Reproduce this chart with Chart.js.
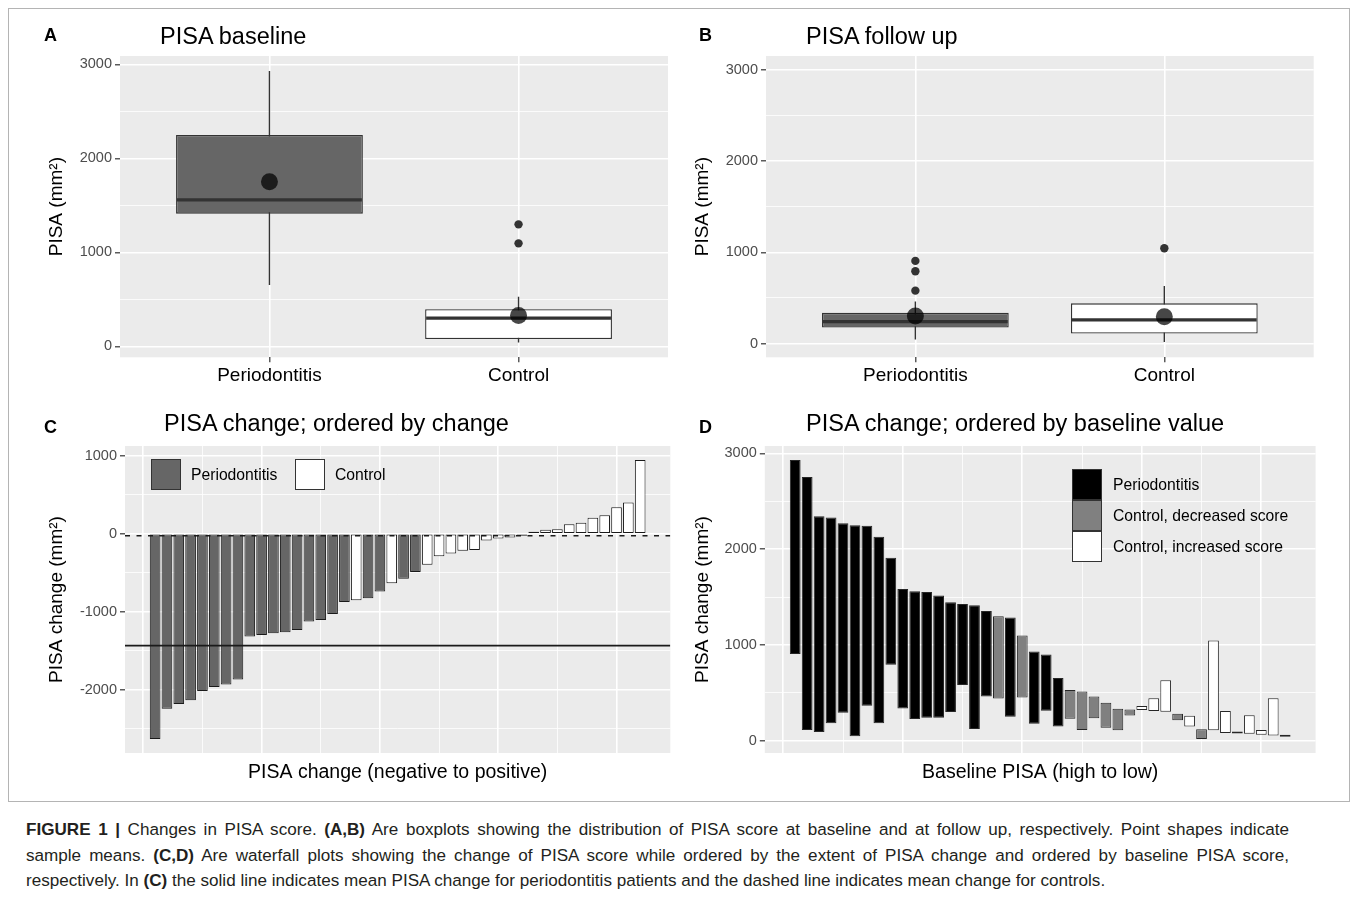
<!DOCTYPE html>
<html>
<head>
<meta charset="utf-8">
<script src="https://cdn.jsdelivr.net/npm/chart.js@4.4.0/dist/chart.umd.min.js"></script>
<style>
  body { margin: 0; background: #fff; font-family: "Liberation Sans", Arial, sans-serif; }
  #fig { position: relative; width: 1357px; height: 897px; overflow: hidden; }
  #frame { position: absolute; left: 8px; top: 8px; width: 1342px; height: 794px; border: 1px solid #b4b4b4; box-sizing: border-box; }
  canvas { position: absolute; }
  .txt { position: absolute; line-height: 1; white-space: nowrap; color: #000; }
  .letter { font-weight: bold; font-size: 18px; }
  .title { font-size: 23.5px; }
  .leg { font-size: 15.7px; }
  .key { position: absolute; width: 30px; height: 31px; border: 1px solid #333; box-sizing: border-box; }
  #caption { position: absolute; left: 26px; top: 817px; width: 1263px; font-size: 17.1px; line-height: 25.5px; color: #231f20; }
  #caption .j { text-align: justify; text-align-last: justify; white-space: normal; }
  #caption div { white-space: nowrap; }
</style>
</head>
<body>
<div id="fig">
  <div id="frame"></div>

  <canvas id="chartA" width="650" height="370" style="left:30px;top:40px"></canvas>
  <canvas id="chartB" width="660" height="370" style="left:680px;top:40px"></canvas>
  <canvas id="chartC" width="650" height="360" style="left:30px;top:430px"></canvas>
  <canvas id="chartD" width="660" height="360" style="left:680px;top:430px"></canvas>

  <div class="txt letter" style="left:44px;top:26px">A</div>
  <div class="txt title" style="left:160px;top:24.5px">PISA baseline</div>
  <div class="txt letter" style="left:699px;top:26px">B</div>
  <div class="txt title" style="left:806px;top:24.5px">PISA follow up</div>
  <div class="txt letter" style="left:44px;top:418px">C</div>
  <div class="txt title" style="left:164px;top:411.5px">PISA change; ordered by change</div>
  <div class="txt letter" style="left:699px;top:418px">D</div>
  <div class="txt title" style="left:806px;top:411.5px">PISA change; ordered by baseline value</div>

  <!-- legend C -->
  <div class="key" style="left:151px;top:459px;background:#666666"></div>
  <div class="txt leg" style="left:191px;top:466.5px">Periodontitis</div>
  <div class="key" style="left:295px;top:459px;background:#ffffff"></div>
  <div class="txt leg" style="left:335px;top:466.5px">Control</div>

  <!-- legend D -->
  <div class="key" style="left:1072px;top:469px;background:#000000"></div>
  <div class="key" style="left:1072px;top:500px;background:#808080"></div>
  <div class="key" style="left:1072px;top:531px;background:#ffffff"></div>
  <div class="txt leg" style="left:1113px;top:477px">Periodontitis</div>
  <div class="txt leg" style="left:1113px;top:508px">Control, decreased score</div>
  <div class="txt leg" style="left:1113px;top:539px">Control, increased score</div>

  <div id="caption">
    <div class="j"><b>FIGURE 1 |</b> Changes in PISA score. <b>(A,B)</b> Are boxplots showing the distribution of PISA score at baseline and at follow up, respectively. Point shapes indicate</div>
    <div class="j">sample means. <b>(C,D)</b> Are waterfall plots showing the change of PISA score while ordered by the extent of PISA change and ordered by baseline PISA score,</div>
    <div>respectively. In <b>(C)</b> the solid line indicates mean PISA change for periodontitis patients and the dashed line indicates mean change for controls.</div>
  </div>
</div>

<script>
// ---------- data ----------
const boxCategories = ["Periodontitis", "Control"];

// subjects ordered by baseline PISA, high to low (panel D)
const baselinePisa = [2931, 2753, 2344, 2330, 2271, 2250, 2245, 2128, 1910, 1583, 1559, 1552, 1517, 1444,
  1427, 1413, 1354, 1299, 1285, 1097, 931, 899, 653, 528, 514, 462, 396, 333, 326, 319, 309, 302, 281,
  149, 118, 108, 80, 74, 72, 62, 55, 42];
const followupPisa = [906, 111, 90, 181, 292, 45, 365, 181, 792, 337, 226, 240, 240, 299,
  580, 122, 462, 441, 250, 451, 177, 312, 149, 229, 111, 233, 135, 108, 262, 361, 444, 632, 212,
  260, 17, 1045, 309, 79, 264, 111, 444, 45];
// P = periodontitis, CD = control decreased, CI = control increased
const subjectGroup = ["P", "P", "P", "P", "P", "P", "P", "P", "P", "P", "P", "P", "P", "P",
  "P", "P", "P", "CD", "P", "CD", "P", "P", "P", "CD", "CD", "CD", "CD", "CD", "CD", "CI", "CI", "CI", "CD",
  "CI", "CD", "CI", "CI", "CI", "CI", "CI", "CI", "CI"];

// panel C: change, ordered from negative to positive
const changeSorted = [-2632, -2244, -2184, -2133, -2017, -1966, -1932, -1868, -1316, -1299, -1274, -1261,
  -1233, -1126, -1105, -1028, -876, -852, -827, -740, -635, -577, -491, -397, -288, -252, -216, -209,
  -86, -60, -47, -4, 10, 51, 58, 124, 143, 205, 239, 342, 400, 947];
const changeGroup = ["P", "P", "P", "P", "P", "P", "P", "P", "P", "P", "P", "P",
  "P", "P", "P", "P", "P", "C", "P", "P", "C", "P", "P", "C", "C", "C", "C", "C",
  "C", "C", "C", "C", "C", "C", "C", "C", "C", "C", "C", "C", "C", "C"];

// axis breaks
const pisaMajor = [0, 1000, 2000, 3000];
const pisaMinor = [500, 1500, 2500];
const changeMajor = [-2000, -1000, 0, 1000];
const changeMinor = [-2500, -1500, -500, 500];
const orderMajor = [0, 10, 20, 30, 40];
const orderMinor = [5, 15, 25, 35];

// ---------- helpers ----------
Chart.defaults.font.family = '"Liberation Sans", Arial, sans-serif';
Chart.defaults.animation = false;
Chart.defaults.plugins.legend.display = false;
Chart.defaults.plugins.tooltip.enabled = false;

const ORDER_MIN = -1.545, ORDER_MAX = 44.545;

const panelBg = {
  id: "panelBg",
  beforeDraw(chart) {
    const { ctx, chartArea: a } = chart;
    ctx.save();
    ctx.fillStyle = "#EBEBEB";
    ctx.fillRect(a.left, a.top, a.right - a.left, a.bottom - a.top);
    ctx.restore();
  },
};

const gridOpts = (tickMarks) => ({
  color: "#FFFFFF",
  lineWidth: (c) => (c.tick && c.tick.major ? 1.6 : 0.8),
  drawTicks: tickMarks,
  tickLength: 5,
  tickWidth: 1.2,
  tickColor: (c) => (c.tick && c.tick.major ? "#333333" : "rgba(0,0,0,0)"),
  offset: false,
});

const setTicks = (major, minor) => (scale) => {
  scale.ticks = major.map((v) => ({ value: v, major: true }))
    .concat(minor.map((v) => ({ value: v, major: false })))
    .sort((a, b) => a.value - b.value);
};

const yScale = (min, max, major, minor, width, title, titlePad) => ({
  type: "linear",
  min, max,
  afterBuildTicks: setTicks(major, minor),
  afterFit: (s) => { s.width = width; },
  grid: gridOpts(true),
  border: { display: false },
  ticks: {
    autoSkip: false, padding: 3, color: "#4D4D4D", font: { size: 14.5 },
    callback: (v) => (major.includes(v) ? String(v) : ""),
  },
  title: { display: true, text: title, color: "#000", font: { size: 19 }, padding: { top: titlePad, bottom: 0 } },
});

const xCategoryScale = (height) => ({
  type: "linear",
  min: 0.4, max: 2.6, offset: false,
  afterBuildTicks: setTicks([1, 2], []),
  afterFit: (s) => { s.height = height; },
  grid: gridOpts(true),
  border: { display: false },
  ticks: {
    autoSkip: false, padding: 2, maxRotation: 0, color: "#000", font: { size: 19 },
    callback: (v) => boxCategories[v - 1] || "",
  },
});

const xOrderScale = (height, title) => ({
  type: "linear",
  min: ORDER_MIN, max: ORDER_MAX, offset: false,
  afterBuildTicks: setTicks(orderMajor, orderMinor),
  afterFit: (s) => { s.height = height; },
  grid: gridOpts(false),
  border: { display: false },
  ticks: { display: false },
  title: { display: true, text: title, color: "#000", font: { size: 19.5 }, padding: { top: 0, bottom: 5.5 } },
});

// ggplot style quantiles (type 7)
const quantile = (s, p) => {
  const h = (s.length - 1) * p, lo = Math.floor(h);
  return lo + 1 < s.length ? s[lo] + (h - lo) * (s[lo + 1] - s[lo]) : s[lo];
};
const boxStats = (vals) => {
  const s = [...vals].sort((a, b) => a - b);
  const q1 = quantile(s, 0.25), med = quantile(s, 0.5), q3 = quantile(s, 0.75);
  const lowF = q1 - 1.5 * (q3 - q1), highF = q3 + 1.5 * (q3 - q1);
  const inside = s.filter((v) => v >= lowF && v <= highF);
  return {
    q1, med, q3,
    lo: inside[0], hi: inside[inside.length - 1],
    out: s.filter((v) => v < lowF || v > highF),
    mean: s.reduce((a, b) => a + b, 0) / s.length,
  };
};

const boxDatasets = (values) => {
  const groups = [
    boxStats(values.filter((_, i) => subjectGroup[i] === "P")),
    boxStats(values.filter((_, i) => subjectGroup[i] !== "P")),
  ];
  const halfBox = (ctx) => {
    const s = ctx.chart.scales.x;
    return Math.abs(s.getPixelForValue(1.375) - s.getPixelForValue(1)) - 1;
  };
  return [
    {
      type: "bar", order: 5, grouped: false, maxBarThickness: 1.4,
      data: groups.map((g, i) => ({ x: i + 1, y: [g.lo, g.hi] })),
      backgroundColor: "#333333",
    },
    {
      type: "bar", order: 4, grouped: false, categoryPercentage: 1, barPercentage: 0.75,
      data: groups.map((g, i) => ({ x: i + 1, y: [g.q1, g.q3] })),
      backgroundColor: ["#666666", "#FFFFFF"],
      borderColor: "#333333", borderWidth: 1.3, borderSkipped: false,
    },
    {
      type: "scatter", order: 3,
      data: groups.map((g, i) => ({ x: i + 1, y: g.med })),
      pointStyle: "line", pointRadius: halfBox, pointHoverRadius: halfBox,
      pointBorderColor: "#333333", pointBorderWidth: 3.2,
    },
    {
      type: "scatter", order: 2,
      data: groups.flatMap((g, i) => g.out.map((v) => ({ x: i + 1, y: v }))),
      pointRadius: 4.2, pointBackgroundColor: "#333333", pointBorderWidth: 0,
    },
    {
      type: "scatter", order: 1,
      data: groups.map((g, i) => ({ x: i + 1, y: g.mean })),
      pointRadius: 8.5, pointBackgroundColor: "rgba(0,0,0,0.72)", pointBorderWidth: 0,
    },
  ];
};

// ---------- panels A and B ----------
new Chart(document.getElementById("chartA"), {
  type: "bar",
  data: { datasets: boxDatasets(baselinePisa) },
  options: {
    responsive: false,
    layout: { padding: { top: 16, right: 12, left: 0, bottom: 0 } },
    scales: {
      x: xCategoryScale(52.7),
      y: yScale(-115, 3090, pisaMajor, pisaMinor, 90, "PISA (mm²)", 15.6),
    },
  },
  plugins: [panelBg],
});

new Chart(document.getElementById("chartB"), {
  type: "bar",
  data: { datasets: boxDatasets(followupPisa) },
  options: {
    responsive: false,
    layout: { padding: { top: 16, right: 26.3, left: 0, bottom: 0 } },
    scales: {
      x: xCategoryScale(52.7),
      y: yScale(-150, 3150, pisaMajor, pisaMinor, 86, "PISA (mm²)", 11.6),
    },
  },
  plugins: [panelBg],
});

// ---------- panel C ----------
const mean = (a) => a.reduce((s, v) => s + v, 0) / a.length;
const meanChangeP = mean(changeSorted.filter((_, i) => changeGroup[i] === "P"));
const meanChangeC = mean(changeSorted.filter((_, i) => changeGroup[i] === "C"));

new Chart(document.getElementById("chartC"), {
  type: "bar",
  data: {
    datasets: [
      {
        type: "bar", order: 3, grouped: false, categoryPercentage: 1, barPercentage: 0.9, minBarLength: 2,
        data: changeSorted.map((v, i) => ({ x: i + 1, y: v })),
        backgroundColor: changeGroup.map((g) => (g === "P" ? "#666666" : "#FFFFFF")),
        borderColor: "#1A1A1A", borderWidth: 1, borderSkipped: false,
      },
      {
        type: "line", order: 1,
        data: [{ x: ORDER_MIN, y: meanChangeP }, { x: ORDER_MAX, y: meanChangeP }],
        borderColor: "#1A1A1A", borderWidth: 1.7, pointRadius: 0,
      },
      {
        type: "line", order: 2,
        data: [{ x: ORDER_MIN, y: meanChangeC }, { x: ORDER_MAX, y: meanChangeC }],
        borderColor: "#1A1A1A", borderWidth: 1.7, borderDash: [5, 6.5], pointRadius: 0,
      },
    ],
  },
  options: {
    responsive: false,
    layout: { padding: { top: 16, right: 9.7, left: 0, bottom: 0 } },
    scales: {
      x: xOrderScale(37, "PISA change (negative to positive)"),
      y: yScale(-2811, 1126, changeMajor, changeMinor, 95, "PISA change (mm²)", 15.6),
    },
  },
  plugins: [panelBg],
});

// ---------- panel D ----------
const groupFill = { P: "#000000", CD: "#808080", CI: "#FFFFFF" };

new Chart(document.getElementById("chartD"), {
  type: "bar",
  data: {
    datasets: [
      {
        type: "bar", grouped: false, categoryPercentage: 1, barPercentage: 0.9, minBarLength: 2,
        data: baselinePisa.map((b, i) => ({ x: i + 1, y: [followupPisa[i], b] })),
        backgroundColor: subjectGroup.map((g) => groupFill[g]),
        borderColor: "#262626", borderWidth: 1, borderSkipped: false,
      },
    ],
  },
  options: {
    responsive: false,
    layout: { padding: { top: 16, right: 24.4, left: 0, bottom: 0 } },
    scales: {
      x: xOrderScale(37, "Baseline PISA (high to low)"),
      y: yScale(-129, 3077, pisaMajor, pisaMinor, 84.8, "PISA change (mm²)", 11.6),
    },
  },
  plugins: [panelBg],
});
</script>
</body>
</html>
